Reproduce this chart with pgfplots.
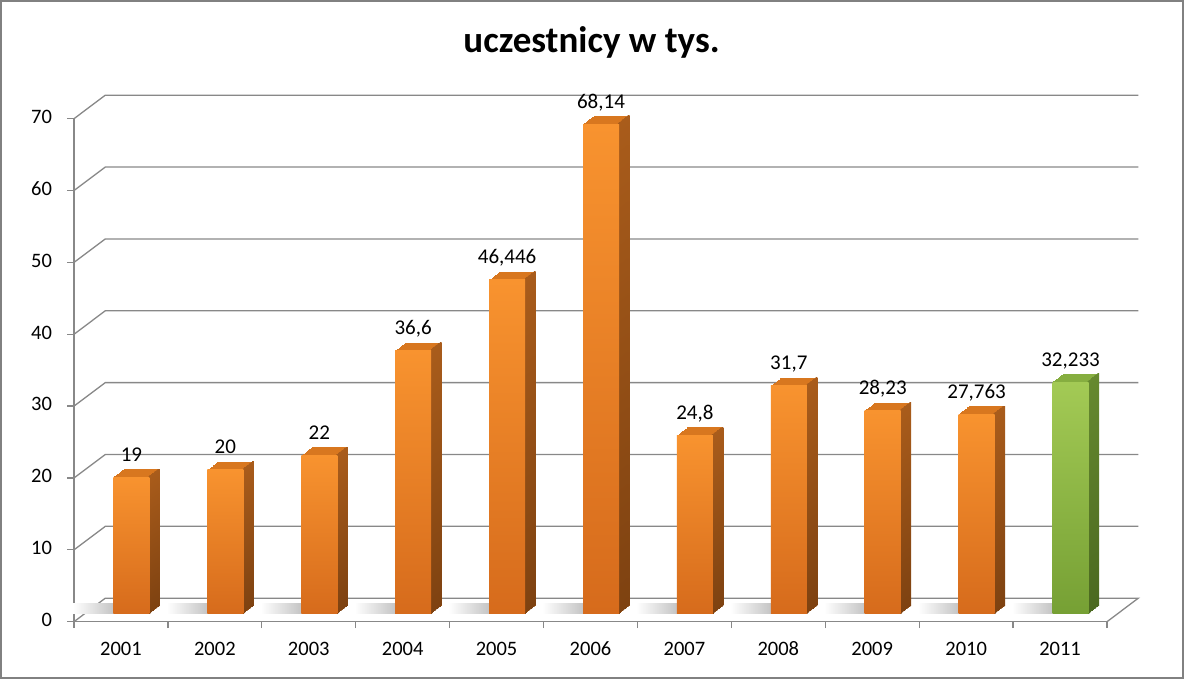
\documentclass[border=0pt]{standalone}
\usepackage{pgfplots}
\pgfplotsset{compat=1.18}
\usepackage{pgfplotstable}
\usepackage{fontspec}
\setmainfont{Carlito}

\definecolor{gridgray}{HTML}{888888}
\definecolor{oFrontT}{HTML}{F8932F}
\definecolor{oFrontB}{HTML}{D66B1C}
\definecolor{oSideT}{HTML}{A95C1B}
\definecolor{oSideB}{HTML}{7E4211}
\definecolor{oTop}{HTML}{D8771F}
\definecolor{gFrontT}{HTML}{A3CA55}
\definecolor{gFrontB}{HTML}{76A034}
\definecolor{gSideT}{HTML}{66892F}
\definecolor{gSideB}{HTML}{4B6920}
\definecolor{gTop}{HTML}{86AE40}

% participants (thousands), 2001-2010 orange, 2011 green
\pgfplotstableread{
x y lab
1 19 19
2 20 20
3 22 22
4 36.6 36,6
5 46.446 46,446
6 68.14 68,14
7 24.8 24,8
8 31.7 31,7
9 28.23 28,23
10 27.763 27,763
}\orangedata
\pgfplotstableread{
x y lab
11 32.233 32,233
}\greendata

% one 3-D bar: #1 table, #2 category, #3/#4 front top/bottom,
% #5/#6 side top/bottom, #7 top face
\newcommand{\onebar}[7]{%
  % top face: full bars stepped backwards
  \pgfplotsinvokeforeach{1,...,12}{%
    \addplot[ybar, bar width=36pt, bar shift=0pt, draw=none, fill=#7,
      restrict x to domain=#2:#2,
      xshift={10.5pt+##1*0.875pt}, yshift={8pt+##1*0.68pt}]
      table[x=x,y=y] {#1};
  }
  % side face: thin strips along the right edge
  \pgfplotsinvokeforeach{1,...,12}{%
    \addplot[ybar, bar width=1.8pt, bar shift=17.1pt, draw=none,
      top color=#5, bottom color=#6, restrict x to domain=#2:#2,
      xshift={10.5pt+##1*0.875pt}, yshift={8pt+##1*0.68pt}]
      table[x=x,y=y] {#1};
  }
  % front face with the value label
  \addplot[ybar, bar width=36pt, bar shift=0pt, draw=none,
    top color=#3, bottom color=#4, xshift=10.5pt, yshift=8pt,
    restrict x to domain=#2:#2,
    nodes near coords, point meta=explicit symbolic,
    every node near coord/.append style={
      font=\fontsize{21}{25}\selectfont, text=black,
      anchor=base, inner sep=0pt, yshift=16pt}]
    table[x=x,y=y,meta=lab] {#1};
}

\begin{document}
\begin{tikzpicture}[x=1pt,y=1pt]
\useasboundingbox (0,0) rectangle (1184,679);
\draw[gridgray!95!black, line width=2.2pt] (1.1,1.1) rectangle (1182.9,677.9);

\node[font=\bfseries\fontsize{37}{44}\selectfont, anchor=base]
  at (591.5,626.3) {uczestnicy w tys.};

\begin{axis}[
    at={(74pt,57.3pt)}, anchor=south west,
    scale only axis, width=1033pt, height=503pt,
    xmin=0.5, xmax=11.5, ymin=0, ymax=70,
    axis x line*=bottom, axis y line*=left,
    axis line style={gridgray, line width=1.3pt},
    xtick={0.5,1.5,...,11.5},
    x tick label as interval,
    xticklabels={2001,2002,2003,2004,2005,2006,2007,2008,2009,2010,2011},
    ytick={0,10,...,70},
    tick align=outside, major tick length=6.5pt,
    tick style={gridgray, line width=1.3pt},
    typeset ticklabels with strut,
    ticklabel style={font=\fontsize{20.5}{24}\selectfont},
    yticklabel style={xshift=-12pt},
    xticklabel style={yshift=-7pt},
    /pgf/number format/assume math mode=true,
    clip=false,
]
% back wall gridlines with the perspective diagonals
\pgfplotsinvokeforeach{10,20,...,70}{%
  \draw[gridgray, line width=1.3pt] (axis cs:0.5,#1) -- ++(31.3pt,23.5pt)
     -- ([xshift=31.3pt,yshift=23.5pt]axis cs:11.5,#1);
}
\draw[gridgray, line width=1.3pt] (axis cs:0.5,0) -- ++(31.3pt,23.5pt)
     -- ([xshift=31.3pt,yshift=23.5pt]axis cs:11.5,0) -- (axis cs:11.5,0);

% soft floor shadows at the foot of each bar
\pgfplotsinvokeforeach{1,...,11}{%
  \shade[left color=white, right color=black!26]
    ([xshift=-48pt,yshift=8pt]axis cs:#1,0) rectangle ([xshift=-2pt,yshift=18pt]axis cs:#1,0);
}

\onebar{\orangedata}{1}{oFrontT}{oFrontB}{oSideT}{oSideB}{oTop}
\onebar{\orangedata}{2}{oFrontT}{oFrontB}{oSideT}{oSideB}{oTop}
\onebar{\orangedata}{3}{oFrontT}{oFrontB}{oSideT}{oSideB}{oTop}
\onebar{\orangedata}{4}{oFrontT}{oFrontB}{oSideT}{oSideB}{oTop}
\onebar{\orangedata}{5}{oFrontT}{oFrontB}{oSideT}{oSideB}{oTop}
\onebar{\orangedata}{6}{oFrontT}{oFrontB}{oSideT}{oSideB}{oTop}
\onebar{\orangedata}{7}{oFrontT}{oFrontB}{oSideT}{oSideB}{oTop}
\onebar{\orangedata}{8}{oFrontT}{oFrontB}{oSideT}{oSideB}{oTop}
\onebar{\orangedata}{9}{oFrontT}{oFrontB}{oSideT}{oSideB}{oTop}
\onebar{\orangedata}{10}{oFrontT}{oFrontB}{oSideT}{oSideB}{oTop}
\onebar{\greendata}{11}{gFrontT}{gFrontB}{gSideT}{gSideB}{gTop}
\end{axis}
\end{tikzpicture}
\end{document}
